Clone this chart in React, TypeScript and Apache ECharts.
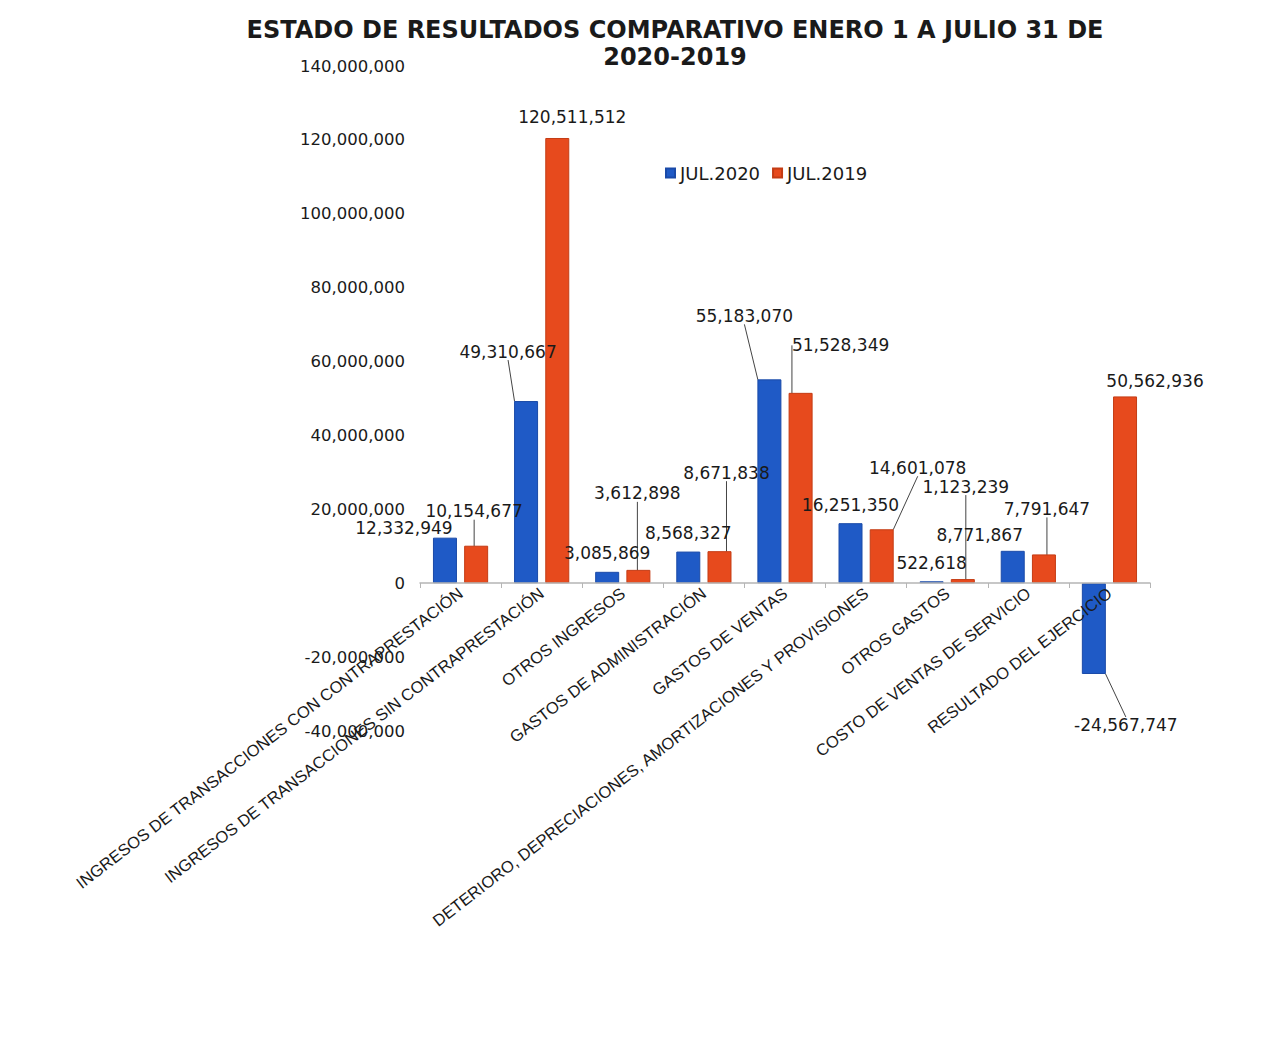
import React, { useEffect, useRef } from "react";
import * as echarts from "echarts";

const categories = [
  "INGRESOS DE TRANSACCIONES CON CONTRAPRESTACIÓN",
  "INGRESOS DE TRANSACCIONES SIN CONTRAPRESTACIÓN",
  "OTROS INGRESOS",
  "GASTOS DE ADMINISTRACIÓN",
  "GASTOS DE VENTAS",
  "DETERIORO, DEPRECIACIONES, AMORTIZACIONES Y PROVISIONES",
  "OTROS GASTOS",
  "COSTO DE VENTAS DE SERVICIO",
  "RESULTADO DEL EJERCICIO",
];

const jul2020 = [12332949, 49310667, 3085869, 8568327, 55183070, 16251350, 522618, 8771867, -24567747];
const jul2019 = [10154677, 120511512, 3612898, 8671838, 51528349, 14601078, 1123239, 7791647, 50562936];

const seriesNames = ["JUL.2020", "JUL.2019"];

// label offsets (dx, dy) from the default label position, per series
const offsets2020: [number, number][] = [
  [-41, 4], [-18, -36], [0, -5], [0, -5], [-25, -50], [0, -5], [0, -5], [-33, -2], [32, 38],
];
const offsets2019: [number, number][] = [
  [-2, -21], [15, -7], [-1, -63], [7, -65], [40, -34], [36, -48], [3, -79], [3, -32], [30, -2],
];
const lines2020 = [false, true, false, false, true, false, false, false, true];
const lines2019 = [true, false, true, true, true, true, true, true, false];

const fmt = (v: number) => v.toLocaleString("en-US");

export default function App() {
  const ref = useRef<HTMLDivElement>(null);
  useEffect(() => {
    document.body.style.margin = "0";
    const chart = echarts.init(ref.current!, null, { renderer: "svg" });
    const labelFont = { fontFamily: "DejaVu Sans", fontSize: 17, color: "#1a1a1a" };
    const mk = (vals: number[], lines: boolean[]) =>
      vals.map((v, i) => ({
        value: v,
        label: v < 0 ? { position: "bottom" } : undefined,
        labelLine: { show: lines[i] },
      }));
    chart.setOption({
      animation: false,
      backgroundColor: "#ffffff",
      title: {
        text: "ESTADO DE RESULTADOS COMPARATIVO ENERO 1 A JULIO 31 DE\n2020-2019",
        left: 670,
        textAlign: "center",
        top: 11,
        textStyle: {
          fontFamily: "DejaVu Sans",
          fontWeight: "bold",
          fontSize: 24,
          lineHeight: 27,
          color: "#1a1a1a",
        },
      },
      legend: {
        left: 660,
        top: 159,
        itemWidth: 9,
        itemHeight: 9,
        itemGap: 12,
        icon: "rect",
        textStyle: { fontFamily: "DejaVu Sans", fontSize: 18, color: "#1a1a1a", padding: [0, 0, 0, 0] },
        data: seriesNames,
      },
      grid: { left: 420, right: 114, top: 66, bottom: 328, containLabel: false },
      xAxis: {
        type: "category",
        data: categories,
        offset: -148,
        z: 5,
        axisLine: { onZero: false, lineStyle: { color: "#b5b5b5", width: 1.5 } },
        axisTick: { show: true, length: 5, lineStyle: { color: "#b5b5b5" } },
        axisLabel: {
          rotate: 37.5,
          interval: 0,
          margin: 8,
          fontFamily: "Liberation Sans",
          fontSize: 16.5,
          color: "#1a1a1a",
        },
      },
      yAxis: {
        type: "value",
        min: -40000000,
        max: 140000000,
        interval: 20000000,
        axisLine: { show: false },
        axisTick: { show: false },
        splitLine: { show: false },
        axisLabel: {
          margin: 15,
          fontFamily: "DejaVu Sans",
          fontSize: 16.5,
          color: "#1a1a1a",
          formatter: (v: number) => fmt(v),
        },
      },
      series: [
        {
          name: seriesNames[0],
          type: "bar",
          barWidth: 24,
          barGap: "30%",
          data: mk(jul2020, lines2020),
          itemStyle: { color: "#1f5ac6", borderColor: "#1a4aa8", borderWidth: 1 },
          label: {
            show: true,
            position: "top",
            distance: 5,
            ...labelFont,
            formatter: (p: any) => fmt(p.value),
          },
          labelLine: { show: true, lineStyle: { color: "#444", width: 1 } },
          labelLayout: (p: any) => ({ dx: offsets2020[p.dataIndex][0], dy: offsets2020[p.dataIndex][1] }),
        },
        {
          name: seriesNames[1],
          type: "bar",
          barWidth: 24,
          barGap: "30%",
          data: mk(jul2019, lines2019),
          itemStyle: { color: "#e74a1d", borderColor: "#c43c14", borderWidth: 1 },
          label: {
            show: true,
            position: "top",
            distance: 5,
            ...labelFont,
            formatter: (p: any) => fmt(p.value),
          },
          labelLine: { show: true, lineStyle: { color: "#444", width: 1 } },
          labelLayout: (p: any) => ({ dx: offsets2019[p.dataIndex][0], dy: offsets2019[p.dataIndex][1] }),
        },
      ],
    });
    return () => chart.dispose();
  }, []);
  return <div ref={ref} style={{ width: 1264, height: 1059 }} />;
}
